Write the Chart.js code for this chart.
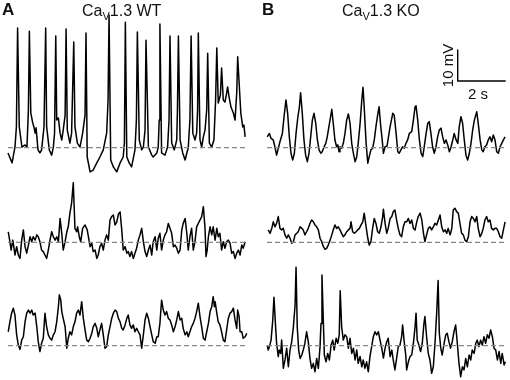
<!DOCTYPE html>
<html>
<head>
<meta charset="utf-8">
<script src="https://cdn.jsdelivr.net/npm/chart.js@4.4.1/dist/chart.umd.min.js"></script>
<style>
body{margin:0;background:#fff;}
#wrap{position:relative;width:510px;height:380px;font-family:Arial,"Liberation Sans",sans-serif;color:#111;}
#chart{position:absolute;left:0;top:0;}
.lbl{position:absolute;white-space:nowrap;line-height:1;}
.panel{font-weight:bold;font-size:17px;}
.title{font-size:16px;}
.title sub{font-size:11px;vertical-align:-4px;}
.scale{font-size:15px;}
</style>
</head>
<body>
<div id="wrap">
<canvas id="chart" width="510" height="380"></canvas>
<div class="lbl panel" style="left:2px;top:1px;">A</div>
<div class="lbl panel" style="left:262px;top:1px;">B</div>
<div class="lbl title" style="left:82px;top:3px;">Ca<sub>V</sub>1.3 WT</div>
<div class="lbl title" style="left:342px;top:3px;">Ca<sub>V</sub>1.3 KO</div>
<div class="lbl scale" style="left:426px;top:58px;transform:rotate(-90deg);">10 mV</div>
<div class="lbl scale" style="left:468px;top:86px;">2 s</div>
</div>
<script>
// time in s from trace start, membrane potential in mV relative to the dashed resting level

// Cav1.3 WT, top trace
let wt1Time=[0,0.17,0.29,0.35,0.40,0.47,0.58,0.71,0.79,0.85,0.89,0.95,1.03,1.08,1.13,1.17,1.25,1.33,1.40,1.50,1.57,1.61,1.72,1.82,1.89,1.94,1.99,2.03,2.10,2.17,2.24,2.30,2.38,2.42,2.47,2.58,2.65,2.74,2.79,2.89,3.00,3.11,3.21,3.25,3.30,3.42,3.55,3.70,3.83,3.97,4.11,4.17,4.21,4.28,4.39,4.53,4.67,4.80,4.85,4.89,4.95,5.05,5.15,5.29,5.35,5.39,5.47,5.57,5.64,5.71,5.75,5.85,5.99,6.05,6.20,6.26,6.30,6.33,6.40,6.54,6.65,6.71,6.75,6.82,6.93,7.03,7.06,7.10,7.17,7.28,7.38,7.45,7.51,7.58,7.63,7.70,7.79,7.86,7.90,7.93,8.00,8.07,8.14,8.21,8.28,8.32,8.39,8.49,8.58,8.65,8.70,8.76,8.85,8.90,8.97,9.04,9.11,9.15,9.21,9.29,9.39,9.46,9.53,9.57,9.64,9.70,9.78,9.83,9.88];
let wt1Volt=[-1.7,-4.9,0.2,6.7,38.6,6.7,0.2,0.9,0.2,12.2,37.6,11.2,8.0,6.7,4.7,6.4,-0.7,-1.7,-0.7,6.7,38.6,6.7,-0.7,-2.4,0.2,4.7,36.0,8.9,9.6,4.7,2.5,5.7,10.5,38.3,5.7,1.5,4.7,34.1,6.7,1.5,0.2,4.7,10.5,37.0,-3.0,-7.8,-7.2,-4.9,-3.0,-0.7,4.7,15.4,42.8,-4.0,-6.2,-7.8,-4.9,-3.0,1.5,40.5,-3.0,-4.9,-6.2,-0.7,8.9,37.3,2.5,-0.7,0.2,5.7,34.7,0.2,-2.4,-3.0,-1.7,0.2,8.9,39.9,-1.7,-2.4,0.2,8.9,36.0,1.5,-0.7,2.5,12.2,36.0,2.5,-1.7,-4.0,-1.7,-0.1,8.9,36.0,4.7,2.5,4.7,12.2,37.0,2.5,0.2,3.5,5.7,12.2,30.5,1.5,0.2,2.5,15.4,32.2,14.4,17.0,25.7,15.4,14.7,17.6,19.6,16.4,13.1,11.2,8.9,17.6,29.3,19.6,11.2,6.7,7.3,3.5];

// Cav1.3 WT, middle trace
let wt2Time=[0.01,0.08,0.13,0.20,0.25,0.29,0.36,0.43,0.50,0.57,0.64,0.71,0.78,0.85,0.92,0.99,1.05,1.13,1.20,1.26,1.33,1.40,1.47,1.54,1.61,1.68,1.75,1.82,1.89,1.96,2.03,2.10,2.17,2.24,2.30,2.38,2.45,2.51,2.58,2.65,2.72,2.79,2.86,2.90,2.97,3.03,3.11,3.21,3.30,3.35,3.42,3.49,3.55,3.63,3.70,3.76,3.83,3.90,3.97,4.04,4.11,4.18,4.25,4.32,4.39,4.46,4.53,4.60,4.67,4.74,4.80,4.88,4.95,5.01,5.08,5.15,5.22,5.29,5.36,5.43,5.50,5.57,5.64,5.71,5.78,5.85,5.92,5.99,6.05,6.13,6.20,6.26,6.33,6.40,6.47,6.54,6.61,6.68,6.75,6.82,6.89,6.96,7.03,7.10,7.17,7.24,7.30,7.38,7.45,7.51,7.58,7.65,7.72,7.79,7.86,7.93,8.00,8.07,8.14,8.21,8.25,8.30,8.35,8.42,8.49,8.55,8.63,8.70,8.76,8.83,8.90,8.97,9.04,9.11,9.18,9.25,9.32,9.39,9.46,9.53,9.60,9.67,9.74,9.80,9.88];
let wt2Volt=[3.4,0.2,-2.5,0.7,-1.9,-4.1,-1.4,-4.1,-5.2,0.7,4.0,-1.4,-3.5,-0.9,1.8,0.2,1.8,0.7,2.4,1.8,0.2,-2.5,-3.0,-4.1,-5.2,-2.5,0.7,3.4,1.8,0.7,1.8,0.2,7.7,2.9,-2.5,0.2,3.4,5.0,9.4,12.6,19.2,4.5,3.4,5.0,1.8,0.2,4.5,5.6,4.0,1.8,-1.4,-0.3,-3.0,-2.5,-5.2,-4.1,-1.4,-0.3,-2.5,0.7,2.4,0.7,7.2,8.3,8.8,5.6,6.5,9.1,9.8,4.0,-2.5,-1.4,-3.5,-3.0,-4.6,-3.0,-5.2,-3.5,-1.9,0.7,2.4,4.5,0.2,-3.0,-4.6,-2.5,-0.9,-4.1,0.2,1.8,-2.5,1.3,2.9,-2.5,0.7,2.4,3.4,6.1,4.5,2.9,-1.4,-0.9,-1.9,-3.5,-2.5,4.0,6.1,7.7,2.9,-2.5,1.8,4.5,-2.5,0.2,5.0,6.1,7.2,8.3,11.5,4.5,-4.6,-2.5,1.8,5.0,2.4,5.0,0.7,4.5,1.8,2.9,-2.5,0.2,-1.9,0.2,0.7,-0.3,-3.5,-3.0,-5.2,-3.5,-2.5,-4.1,-0.9,-1.9,0.2];

// Cav1.3 WT, bottom trace
let wt3Time=[0.01,0.08,0.15,0.22,0.29,0.36,0.43,0.50,0.57,0.64,0.71,0.78,0.85,0.92,0.99,1.05,1.13,1.20,1.26,1.33,1.40,1.47,1.54,1.61,1.68,1.75,1.82,1.89,1.96,2.03,2.10,2.14,2.20,2.24,2.30,2.38,2.45,2.51,2.58,2.65,2.72,2.79,2.86,2.93,3.00,3.07,3.14,3.21,3.28,3.35,3.42,3.49,3.55,3.63,3.70,3.76,3.83,3.90,3.97,4.04,4.11,4.18,4.25,4.32,4.39,4.46,4.53,4.60,4.67,4.74,4.80,4.88,4.95,5.01,5.08,5.15,5.22,5.29,5.36,5.43,5.50,5.57,5.64,5.71,5.78,5.85,5.92,5.99,6.05,6.13,6.20,6.26,6.33,6.40,6.47,6.54,6.61,6.68,6.75,6.82,6.89,6.96,7.03,7.10,7.17,7.24,7.30,7.38,7.45,7.51,7.58,7.65,7.72,7.79,7.86,7.93,8.00,8.07,8.14,8.21,8.28,8.35,8.42,8.49,8.55,8.60,8.63,8.70,8.76,8.83,8.90,8.97,9.04,9.11,9.18,9.25,9.32,9.39,9.46,9.53,9.57,9.63,9.67,9.74,9.80,9.88,9.95];
let wt3Volt=[4.5,7.7,10.5,12.1,9.9,3.5,0.2,-1.2,1.8,2.9,7.7,10.5,11.5,10.5,11.5,9.9,10.5,6.1,1.3,-1.9,0.8,2.4,10.5,6.1,3.5,2.4,1.8,3.5,4.5,7.7,12.6,16.4,14.7,11.0,8.8,6.1,-0.8,2.4,4.5,3.5,6.1,7.7,10.5,11.5,9.9,14.2,8.8,5.1,1.8,1.3,2.4,4.0,6.1,7.2,5.6,2.9,5.1,7.2,3.5,-0.8,-0.3,3.5,6.1,8.8,10.5,11.5,11.0,8.8,7.7,5.6,5.1,6.7,8.8,9.9,6.7,5.6,6.7,4.5,5.6,4.5,3.5,-0.8,3.5,8.3,10.5,8.8,6.1,3.5,1.3,0.8,2.9,2.9,7.2,14.7,11.5,9.9,11.0,8.8,8.3,6.7,4.5,6.1,8.3,11.0,8.3,8.8,5.6,3.5,4.5,2.9,4.5,6.1,7.2,8.8,11.0,13.7,9.4,6.1,2.4,1.8,4.5,7.2,11.0,12.6,15.8,12.6,14.2,10.5,7.7,6.7,4.5,1.8,1.3,5.1,8.8,10.5,11.0,12.1,8.3,5.6,11.5,9.4,4.5,4.5,2.4,2.9,4.0];

// Cav1.3 KO, top trace
let ko1Time=[0.01,0.10,0.17,0.26,0.33,0.40,0.47,0.54,0.64,0.71,0.79,0.86,0.93,1.00,1.07,1.14,1.21,1.28,1.35,1.40,1.47,1.54,1.61,1.68,1.75,1.82,1.89,1.96,2.03,2.10,2.17,2.24,2.30,2.38,2.45,2.51,2.58,2.65,2.70,2.76,2.83,2.90,2.95,3.00,3.04,3.11,3.18,3.25,3.32,3.39,3.46,3.53,3.60,3.67,3.74,3.80,3.88,3.95,4.00,4.05,4.13,4.20,4.26,4.33,4.40,4.47,4.54,4.61,4.67,4.74,4.80,4.85,4.92,5.00,5.13,5.24,5.30,5.38,5.45,5.51,5.58,5.65,5.72,5.79,5.86,5.93,6.03,6.10,6.17,6.21,6.28,6.35,6.42,6.49,6.55,6.63,6.70,6.76,6.83,6.90,6.97,7.04,7.11,7.18,7.25,7.32,7.39,7.46,7.53,7.60,7.67,7.74,7.80,7.88,7.95,8.01,8.08,8.15,8.22,8.29,8.36,8.43,8.50,8.57,8.64,8.74,8.80,8.88,8.95,9.01,9.08,9.15,9.22,9.29,9.36,9.43,9.50,9.57,9.64,9.71,9.78,9.85,9.92];
let ko1Volt=[3.5,4.6,3.0,2.5,0.3,-2.4,-0.2,1.9,4.6,10.0,15.4,11.1,3.5,-1.8,-4.0,-1.8,4.6,9.5,13.2,17.7,11.1,2.5,-2.4,-4.5,-1.8,3.5,8.9,11.1,7.9,2.5,-0.7,-1.8,-1.3,0.3,1.4,3.5,6.8,10.0,12.4,7.9,2.5,0.3,0.9,-1.3,0.3,-0.2,1.4,4.6,8.9,10.9,7.9,1.4,-1.8,-4.5,-2.9,1.4,7.9,15.4,19.5,13.2,1.4,-5.0,-2.9,-0.7,-0.2,2.5,6.8,10.5,13.2,6.8,2.5,-1.8,0.3,0.5,6.8,11.1,10.5,4.6,-1.3,-1.8,-0.7,0.3,-0.2,1.4,2.5,4.6,5.2,8.9,13.2,13.5,8.9,2.5,-1.8,-2.9,0.3,4.6,7.9,8.4,4.6,0.3,-1.8,0.3,3.5,5.7,6.3,3.5,1.4,2.5,0.9,-1.3,0.3,2.5,4.6,2.5,1.4,6.8,10.0,7.9,2.5,-2.4,-4.0,-1.8,1.4,5.7,8.9,11.6,7.9,2.5,-0.7,-1.3,0.3,0.9,2.5,3.5,1.9,4.1,2.5,-1.3,-1.8,0.3,1.4,2.5,3.5];

// Cav1.3 KO, middle trace
let ko2Time=[0.05,0.13,0.20,0.26,0.33,0.40,0.47,0.54,0.61,0.68,0.75,0.82,0.89,0.96,1.03,1.10,1.17,1.24,1.30,1.38,1.45,1.51,1.58,1.65,1.72,1.79,1.86,1.93,2.00,2.07,2.14,2.21,2.28,2.35,2.42,2.49,2.55,2.63,2.70,2.76,2.83,2.90,2.97,3.04,3.11,3.18,3.25,3.32,3.39,3.46,3.50,3.57,3.64,3.71,3.78,3.85,3.92,3.99,4.05,4.13,4.20,4.26,4.33,4.40,4.47,4.54,4.61,4.68,4.75,4.82,4.85,4.92,4.99,5.05,5.13,5.20,5.26,5.33,5.40,5.47,5.54,5.61,5.68,5.75,5.82,5.89,5.96,6.03,6.10,6.17,6.24,6.30,6.38,6.45,6.51,6.58,6.65,6.72,6.79,6.86,6.93,7.00,7.07,7.14,7.21,7.28,7.35,7.42,7.49,7.55,7.63,7.70,7.76,7.83,7.90,7.97,8.04,8.11,8.18,8.25,8.32,8.39,8.46,8.53,8.60,8.67,8.74,8.80,8.88,8.95,9.01,9.08,9.15,9.22,9.29,9.36,9.43,9.50,9.57,9.64,9.71,9.78,9.85,9.92];
let ko2Volt=[4.0,2.9,4.5,6.6,5.0,6.1,8.3,4.5,4.0,4.5,2.4,1.3,2.4,1.3,-0.3,0.2,2.4,2.9,3.4,5.0,4.5,4.0,2.4,3.4,4.5,6.1,7.2,6.6,5.6,5.0,4.0,1.3,0.2,-1.4,-2.3,-1.9,-0.9,0.7,2.4,4.0,5.6,4.5,5.0,4.0,2.9,1.8,2.4,3.4,4.0,4.5,6.6,3.4,2.9,3.4,4.0,4.5,5.6,6.6,9.4,5.0,1.3,-0.9,0.2,4.5,7.7,6.1,3.4,2.9,5.0,8.3,10.7,6.1,2.9,4.5,7.7,8.3,9.9,10.4,7.2,4.5,2.4,1.8,5.0,6.6,6.6,7.7,6.1,7.2,4.5,4.0,6.6,8.3,9.4,7.2,3.4,0.2,2.4,4.5,5.0,4.0,5.0,6.1,5.6,7.2,8.8,5.0,3.4,4.0,2.9,4.5,2.4,4.5,10.4,11.0,9.9,9.4,6.1,2.9,2.4,0.7,0.2,1.8,6.6,8.3,7.7,6.6,8.3,4.5,1.8,2.9,4.5,7.2,8.3,6.6,7.2,4.5,4.0,4.5,4.5,3.4,1.8,1.3,4.0,6.6];

// Cav1.3 KO, bottom trace
let ko3Time=[0.01,0.05,0.10,0.17,0.24,0.29,0.35,0.40,0.47,0.51,0.57,0.61,0.68,0.75,0.82,0.89,0.96,1.03,1.10,1.17,1.21,1.26,1.32,1.38,1.45,1.51,1.58,1.65,1.72,1.79,1.86,1.93,2.00,2.07,2.14,2.21,2.25,2.29,2.35,2.39,2.46,2.53,2.60,2.67,2.74,2.80,2.88,2.95,3.01,3.05,3.11,3.18,3.25,3.32,3.39,3.46,3.53,3.60,3.67,3.74,3.80,3.88,3.95,4.01,4.08,4.15,4.22,4.29,4.36,4.43,4.50,4.57,4.64,4.71,4.78,4.85,4.92,4.99,5.05,5.13,5.20,5.26,5.33,5.40,5.47,5.54,5.61,5.65,5.71,5.78,5.82,5.89,5.96,6.03,6.10,6.17,6.21,6.26,6.33,6.40,6.47,6.54,6.58,6.65,6.72,6.79,6.86,6.93,7.00,7.07,7.13,7.18,7.24,7.30,7.38,7.45,7.51,7.58,7.65,7.72,7.79,7.86,7.93,8.00,8.07,8.14,8.21,8.28,8.35,8.42,8.49,8.55,8.63,8.70,8.76,8.83,8.90,8.97,9.04,9.11,9.18,9.25,9.32,9.39,9.46,9.53,9.60,9.67,9.74,9.80,9.88,9.93];
let ko3Volt=[0.2,-1.4,-0.3,1.8,8.3,15.6,7.2,0.8,-3.5,-1.4,-2.5,1.8,-7.3,-4.6,-0.8,-6.8,-1.4,1.3,6.1,13.1,25.3,6.1,-1.4,-4.1,-3.0,-1.4,0.8,4.5,1.3,-4.1,-7.3,-5.7,-8.4,-4.1,-7.3,-0.3,7.2,22.8,7.2,-3.0,-5.2,-2.5,-4.6,0.2,1.8,-1.4,2.4,0.8,3.5,17.7,6.1,1.8,3.5,2.9,-0.8,2.4,-2.5,-0.8,-4.6,-1.4,-5.7,-3.5,-6.8,-4.6,-7.3,-5.2,-8.4,-3.5,-0.3,2.9,4.5,3.5,4.5,1.8,-0.7,-4.0,-0.8,1.3,2.4,-3.5,-1.4,-4.6,-7.8,-4.1,-0.3,0.2,2.9,6.7,1.8,-3.0,-7.8,-5.2,-3.5,-3.0,0.8,6.1,10.5,1.8,0.2,-1.9,0.8,7.2,9.4,2.9,-2.5,-4.6,-8.9,-6.8,0.8,10.5,21.0,4.0,-0.8,-3.0,0.8,3.5,4.0,1.3,-0.8,1.3,4.5,6.7,0.8,-5.7,-10.0,-6.8,-7.8,-4.1,-6.8,-3.0,-4.6,-1.4,-2.5,0.8,1.8,-0.3,1.8,0.2,2.9,0.8,3.5,2.4,5.1,2.9,-0.8,-1.4,-4.6,-1.9,-5.7,-2.5,-6.2,-5.2];

// scale bar
let barTime=2;   // s
let barVolt=10;  // mV

// layout: 24 px per s, 3.1 px per mV on a 510 x 380 canvas
const PX_S=24, PX_MV=3.1;
const panelStart=[8/PX_S, 267/PX_S];
const rowLevel=[(380-147.7)/PX_MV, (380-242.3)/PX_MV, (380-345.7)/PX_MV];
const baseLen=[9.9, 10.0];

let traces=[
[wt1Time,wt1Volt,0,0],[wt2Time,wt2Volt,0,1],[wt3Time,wt3Volt,0,2],
[ko1Time,ko1Volt,1,0],[ko2Time,ko2Volt,1,1],[ko3Time,ko3Volt,1,2]
];

let datasets=[];

// dashed resting levels first so traces sit on top
traces.forEach(tr=>{
let p=tr[2], r=tr[3];
datasets.push({
data:[{x:panelStart[p],y:rowLevel[r]},{x:panelStart[p]+baseLen[p],y:rowLevel[r]}],
borderColor:'#888',borderWidth:1.2,borderDash:[5,3]
});
});

traces.forEach(tr=>{
let p=tr[2], r=tr[3];
datasets.push({
data:tr[0].map((t,i)=>({x:panelStart[p]+t,y:rowLevel[r]+tr[1][i]})),
borderColor:'#000',borderWidth:1.5
});
});

// scale bar corner
let bx=457.7/PX_S, by=(380-81)/PX_MV;
datasets.push({
data:[{x:bx,y:by+barVolt},{x:bx,y:by},{x:bx+barTime,y:by}],
borderColor:'#000',borderWidth:1.4
});

new Chart(document.getElementById('chart'),{
type:'line',
data:{datasets:datasets},
options:{
responsive:false,
animation:false,
devicePixelRatio:1,
layout:{padding:0},
elements:{point:{radius:0},line:{tension:0,fill:false,borderJoinStyle:'round'}},
plugins:{legend:{display:false},tooltip:{enabled:false}},
scales:{
x:{type:'linear',min:0,max:510/PX_S,display:false},
y:{type:'linear',min:0,max:380/PX_MV,display:false}
}
}
});
</script>
</body>
</html>
